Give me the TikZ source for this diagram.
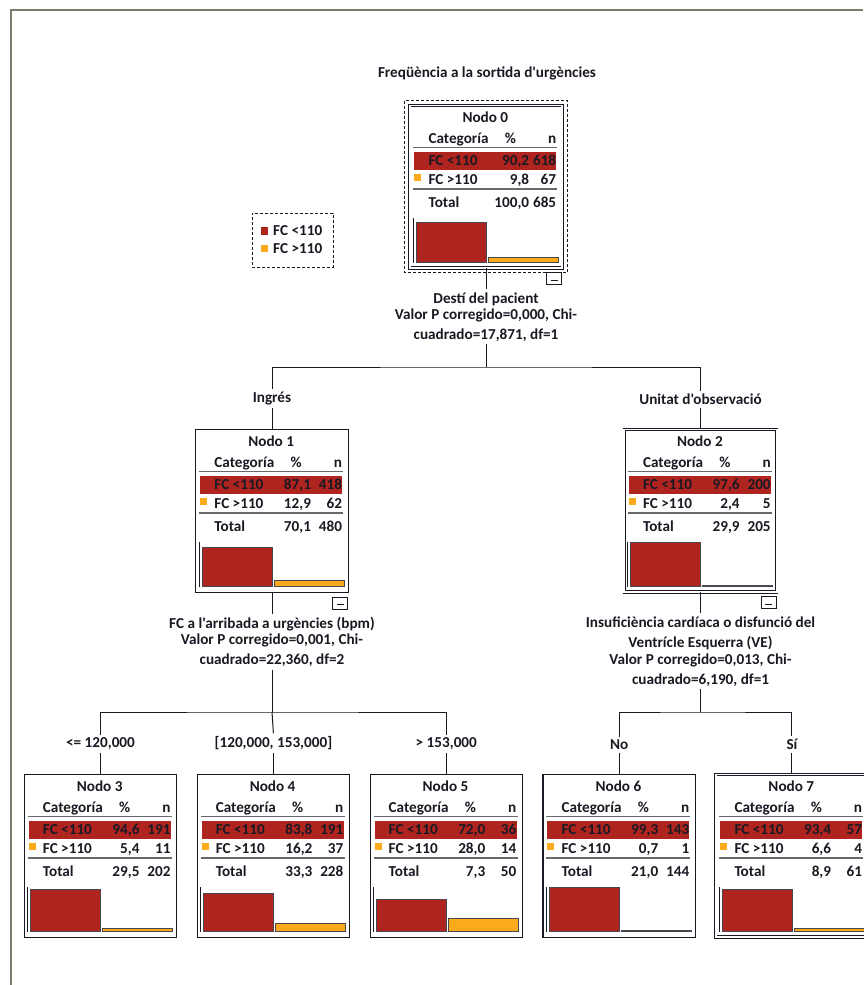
\documentclass[tikz,border=0pt]{standalone}
\usepackage{fontspec}
\setmainfont{Carlito}[Ligatures=TeXOff]
\usepackage{tikz}
\usetikzlibrary{positioning}

\definecolor{barred}{RGB}{176,36,32}
\definecolor{barorange}{RGB}{251,170,28}
\definecolor{inkc}{RGB}{25,25,35}
\definecolor{framec}{RGB}{125,125,110}
\definecolor{rulec}{RGB}{105,105,105}

% table of one tree node: [right edge of % column]{node}{number}{% n}{% n}{% n}
\newcommand{\nodetable}[9][116]{%
  \begin{scope}[shift={(#2.north west)}]
    \node[txt] (#2nom) at (76,17) {Nodo #3};
    \node[txtl] (#2cat) at (19,38) {Categoría};
    \node[txt] (#2pct) at (101,38) {\%};
    \node[txtr] (#2num) at (147,38) {n};
    \draw[rulel] (4,42.5) -- (148,42.5);
    \fill[barred] (5,47) rectangle (147,65);
    \fill[barorange] (5,69) rectangle (12,76);
    \node[txtl] (#2a) at (19,60.5) {FC <110};
    \node[txtr] (#2ap) at (#1,60.5) {#4};
    \node[txtr] (#2an) at (147,60.5) {#5};
    \node[txtl] (#2b) at (19,79) {FC >110};
    \node[txtr] (#2bp) at (#1,79) {#6};
    \node[txtr] (#2bn) at (147,79) {#7};
    \draw[rulel] (4,84) -- (148,84);
    \node[txtl] (#2t) at (19,102) {Total};
    \node[txtr] (#2tp) at (#1,102) {#8};
    \node[txtr] (#2tn) at (147,102) {#9};
  \end{scope}}

% bar chart of one tree node: {node}{red %}{orange %}
\newcommand{\nodebars}[3]{%
  \begin{scope}[shift={(#1.north west)}]
    \draw[axisl] (4,113) -- (4,158);
    \filldraw[bar, fill=barred] (7,{157-0.443*#2}) rectangle (77,157);
    \filldraw[bar, fill=barorange] (79,{157-0.443*#3}) rectangle (149,157);
  \end{scope}}

% collapse box under a node
\newcommand{\minusbox}[1]{%
  \node[minbox] (#1m) at ([shift={(-8.5,10.5)}]#1.south east) {};
  \draw[line width=0.9pt] ([shift={(-3.5,1.5)}]#1m.center) -- ([shift={(3.5,1.5)}]#1m.center);}

\begin{document}
\begin{tikzpicture}[
    x=1pt, y=-1pt,
    font=\fontsize{15.2}{20}\selectfont\bfseries, color=inkc,
    cbox/.style={draw=inkc, line width=1.1pt, minimum width=152.5pt, minimum height=162.5pt, inner sep=0, anchor=north},
    cboxd/.style={cbox, double, line width=0.8pt, double distance=1.6pt},
    txt/.style={inner sep=0, anchor=base},
    txtl/.style={inner sep=0, anchor=base west},
    txtr/.style={inner sep=0, anchor=base east},
    rulel/.style={draw=rulec, line width=1.4pt},
    axisl/.style={draw=inkc, line width=0.8pt},
    bar/.style={draw=inkc!80, line width=0.8pt},
    minbox/.style={draw=inkc, fill=white, line width=0.9pt, minimum width=15pt, minimum height=12pt, inner sep=0},
    selline/.style={draw=inkc, line width=0.9pt, dash pattern=on 3pt off 2pt},
    legbox/.style={selline, minimum width=81pt, minimum height=54pt, anchor=north west, inner sep=0},
    split/.style={align=center, inner sep=3pt},
    cat/.style={inner sep=3pt},
    conn/.style={draw=inkc, line width=1pt}
]
\useasboundingbox (0,0) rectangle (863,985);
\draw[framec, line width=2pt] (11,985) -- (11,10) -- (863,10);

\node (titulo) at (487,73) {Freqüència a la sortida d'urgències};

% legend
\node[legbox] (leyenda) at (252,213) {};
\fill[barred] ([shift={(9,14)}]leyenda.north west) rectangle ++(7,8);
\fill[barorange] ([shift={(9,32)}]leyenda.north west) rectangle ++(7,7);
\node[txtl] (leg1) at ([shift={(21,22.5)}]leyenda.north west) {FC <110};
\node[txtl] (leg2) at ([shift={(21,40.5)}]leyenda.north west) {FC >110};

% tree nodes
\node[cboxd] (nodo0) at (486,105) {};
\node[cbox] (nodo1) at (272,429) {};
\node[cboxd] (nodo2) at (700.5,429) {};
\node[cbox] (nodo3) at (100.5,774) {};
\node[cbox, right=19.3pt of nodo3] (nodo4) {};
\node[cbox, right=19.3pt of nodo4] (nodo5) {};
\node[cbox, right=19.3pt of nodo5] (nodo6) {};
\node[cboxd, right=19.3pt of nodo6] (nodo7) {};
\draw[selline] ([shift={(-4.5,-4.5)}]nodo0.north west) rectangle ([shift={(4.5,4.5)}]nodo0.south east);

\nodetable[120]{nodo0}{0}{90,2}{618}{9,8}{67}{100,0}{685}
\nodetable{nodo1}{1}{87,1}{418}{12,9}{62}{70,1}{480}
\nodetable{nodo2}{2}{97,6}{200}{2,4}{5}{29,9}{205}
\nodetable{nodo3}{3}{94,6}{191}{5,4}{11}{29,5}{202}
\nodetable{nodo4}{4}{83,8}{191}{16,2}{37}{33,3}{228}
\nodetable{nodo5}{5}{72,0}{36}{28,0}{14}{7,3}{50}
\nodetable{nodo6}{6}{99,3}{143}{0,7}{1}{21,0}{144}
\nodetable{nodo7}{7}{93,4}{57}{6,6}{4}{8,9}{61}

\nodebars{nodo0}{90.2}{9.8}
\nodebars{nodo1}{87.1}{12.9}
\nodebars{nodo2}{97.6}{2.4}
\nodebars{nodo3}{94.6}{5.4}
\nodebars{nodo4}{83.8}{16.2}
\nodebars{nodo5}{72.0}{28.0}
\nodebars{nodo6}{99.3}{0.7}
\nodebars{nodo7}{93.4}{6.6}

\minusbox{nodo0}
\minusbox{nodo1}
\minusbox{nodo2}

% split labels
\node[split, below=21pt of nodo0] (split0) {Destí del pacient\\[-4pt]Valor P corregido=0,000, Chi-\\cuadrado=17,871, df=1};
\node[split, below=21.5pt of nodo1] (split1) {FC a l'arribada a urgències (bpm)\\[-4pt]Valor P corregido=0,001, Chi-\\cuadrado=22,360, df=2};
\node[split, below=21pt of nodo2] (split2) {Insuficiència cardíaca o disfunció del\\Ventrícle Esquerra (VE)\\[-3pt]Valor P corregido=0,013, Chi-\\cuadrado=6,190, df=1};

% branch labels
\node[cat, above=21pt of nodo1] (lab1) {Ingrés};
\node[cat, above=21pt of nodo2] (lab2) {Unitat d'observació};
\node[cat, above=21pt of nodo3] (lab3) {<= 120,000};
\node[cat, above=21pt of nodo4] (lab4) {[120,000, 153,000]};
\node[cat, above=21pt of nodo5] (lab5) {> 153,000};
\node[cat, above=21pt of nodo6] (lab6) {No};
\node[cat, above=21pt of nodo7] (lab7) {Sí};

% connectors
\coordinate (bar0) at (split0.south |- 0,367);
\coordinate (bar1) at (split1.south |- 0,712);
\coordinate (bar2) at (split2.south |- 0,712);
\draw[conn] (nodo0.south) -- (split0.north);
\draw[conn] (nodo1.south) -- (split1.north);
\draw[conn] (nodo2.south) -- (split2.north);
\draw[conn] (split0.south) -- (bar0);
\draw[conn] (split1.south) -- (bar1);
\draw[conn] (split2.south) -- (bar2);
\draw[conn] (lab1.north) |- (bar0) -| (lab2.north);
\draw[conn] (lab3.north) |- (bar1) -| (lab5.north);
\draw[conn] (bar1) -- (lab4.north);
\draw[conn] (lab6.north) |- (bar2) -| (lab7.north);
\foreach \i in {1,...,7}
  \draw[conn] (lab\i.south) -- (nodo\i.north);
\end{tikzpicture}
\end{document}
